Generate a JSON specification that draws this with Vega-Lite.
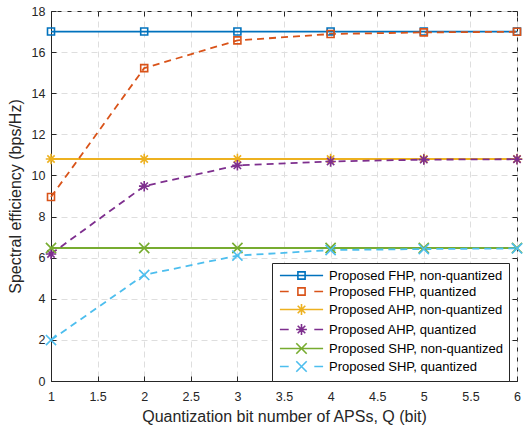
{
  "$schema": "https://vega.github.io/schema/vega-lite/v6.json",
  "width": 466,
  "height": 370,
  "autosize": {"type": "none"},
  "padding": {"left": 51, "top": 11, "right": 6, "bottom": 45},
  "background": "white",
  "config": {
    "font": "Liberation Sans",
    "view": {"stroke": "#262626", "strokeWidth": 1},
    "axis": {
      "domainColor": "#262626",
      "tickColor": "#262626",
      "labelColor": "#262626",
      "titleColor": "#262626",
      "labelFont": "Liberation Sans",
      "titleFont": "Liberation Sans",
      "labelFontSize": 12.5,
      "titleFontSize": 16,
      "titleFontWeight": "normal",
      "tickSize": -5,
      "gridColor": "#dedede",
      "gridDash": [6, 4],
      "gridWidth": 1
    }
  },
  "data": {
    "values": [
      {"series": "Proposed FHP, non-quantized", "kind": "non", "Q": 1, "se": 17.0},
      {"series": "Proposed FHP, non-quantized", "kind": "non", "Q": 2, "se": 17.0},
      {"series": "Proposed FHP, non-quantized", "kind": "non", "Q": 3, "se": 17.0},
      {"series": "Proposed FHP, non-quantized", "kind": "non", "Q": 4, "se": 17.0},
      {"series": "Proposed FHP, non-quantized", "kind": "non", "Q": 5, "se": 17.0},
      {"series": "Proposed FHP, non-quantized", "kind": "non", "Q": 6, "se": 17.0},
      {"series": "Proposed FHP, quantized", "kind": "quant", "Q": 1, "se": 8.95},
      {"series": "Proposed FHP, quantized", "kind": "quant", "Q": 2, "se": 15.22},
      {"series": "Proposed FHP, quantized", "kind": "quant", "Q": 3, "se": 16.57},
      {"series": "Proposed FHP, quantized", "kind": "quant", "Q": 4, "se": 16.88},
      {"series": "Proposed FHP, quantized", "kind": "quant", "Q": 5, "se": 16.96},
      {"series": "Proposed FHP, quantized", "kind": "quant", "Q": 6, "se": 16.99},
      {"series": "Proposed AHP, non-quantized", "kind": "non", "Q": 1, "se": 10.8},
      {"series": "Proposed AHP, non-quantized", "kind": "non", "Q": 2, "se": 10.8},
      {"series": "Proposed AHP, non-quantized", "kind": "non", "Q": 3, "se": 10.8},
      {"series": "Proposed AHP, non-quantized", "kind": "non", "Q": 4, "se": 10.8},
      {"series": "Proposed AHP, non-quantized", "kind": "non", "Q": 5, "se": 10.8},
      {"series": "Proposed AHP, non-quantized", "kind": "non", "Q": 6, "se": 10.8},
      {"series": "Proposed AHP, quantized", "kind": "quant", "Q": 1, "se": 6.18},
      {"series": "Proposed AHP, quantized", "kind": "quant", "Q": 2, "se": 9.48},
      {"series": "Proposed AHP, quantized", "kind": "quant", "Q": 3, "se": 10.49},
      {"series": "Proposed AHP, quantized", "kind": "quant", "Q": 4, "se": 10.68},
      {"series": "Proposed AHP, quantized", "kind": "quant", "Q": 5, "se": 10.77},
      {"series": "Proposed AHP, quantized", "kind": "quant", "Q": 6, "se": 10.79},
      {"series": "Proposed SHP, non-quantized", "kind": "non", "Q": 1, "se": 6.47},
      {"series": "Proposed SHP, non-quantized", "kind": "non", "Q": 2, "se": 6.47},
      {"series": "Proposed SHP, non-quantized", "kind": "non", "Q": 3, "se": 6.47},
      {"series": "Proposed SHP, non-quantized", "kind": "non", "Q": 4, "se": 6.47},
      {"series": "Proposed SHP, non-quantized", "kind": "non", "Q": 5, "se": 6.47},
      {"series": "Proposed SHP, non-quantized", "kind": "non", "Q": 6, "se": 6.47},
      {"series": "Proposed SHP, quantized", "kind": "quant", "Q": 1, "se": 1.99},
      {"series": "Proposed SHP, quantized", "kind": "quant", "Q": 2, "se": 5.16},
      {"series": "Proposed SHP, quantized", "kind": "quant", "Q": 3, "se": 6.1},
      {"series": "Proposed SHP, quantized", "kind": "quant", "Q": 4, "se": 6.37},
      {"series": "Proposed SHP, quantized", "kind": "quant", "Q": 5, "se": 6.42},
      {"series": "Proposed SHP, quantized", "kind": "quant", "Q": 6, "se": 6.45}
    ]
  },
  "layer": [
    {
      "transform": [{"filter": "datum.kind === 'non'"}],
      "mark": {"type": "line", "strokeWidth": 1.8, "clip": false},
      "encoding": {
        "x": {
          "field": "Q", "type": "quantitative",
          "scale": {"domain": [1, 6], "nice": false, "zero": false},
          "axis": {"orient": "bottom", "values": [1, 1.5, 2, 2.5, 3, 3.5, 4, 4.5, 5, 5.5, 6], "format": "~g", "labelPadding": 14, "title": "Quantization bit number of APSs, Q (bit)", "titlePadding": 6, "grid": true, "labelFlush": false}
        },
        "y": {
          "field": "se", "type": "quantitative",
          "scale": {"domain": [0, 18], "nice": false},
          "axis": {"orient": "left", "values": [0, 2, 4, 6, 8, 10, 12, 14, 16, 18], "labelPadding": 11, "title": "Spectral efficiency (bps/Hz)", "titlePadding": 8, "grid": true}
        },
        "color": {
          "field": "series", "type": "nominal",
          "scale": {
            "domain": ["Proposed FHP, non-quantized", "Proposed FHP, quantized", "Proposed AHP, non-quantized", "Proposed AHP, quantized", "Proposed SHP, non-quantized", "Proposed SHP, quantized"],
            "range": ["#0072BD", "#D95319", "#EDB120", "#7E2F8E", "#77AC30", "#4DBEEE"]
          },
          "legend": {
            "title": null,
            "orient": "none",
            "legendX": 221,
            "legendY": 252,
            "direction": "vertical",
            "strokeColor": "#262626",
            "fillColor": "white",
            "padding": 6,
            "cornerRadius": 0,
            "labelFont": "Liberation Sans",
            "labelFontSize": 13,
            "labelColor": "#000000",
            "labelLimit": 400,
            "symbolType": "M-5.4,0L5.4,0",
            "symbolSize": 64,
            "symbolOffset": 17,
            "labelOffset": 21,
            "rowPadding": 1,
            "symbolStrokeWidth": 1.6,
            "encode": {
              "symbols": {
                "update": {
                  "shape": {"signal": "datum.value === 'Proposed FHP, non-quantized' ? 'M-5.4,0L5.4,0M-0.9,-0.9L0.9,-0.9L0.9,0.9L-0.9,0.9Z' : datum.value === 'Proposed FHP, quantized' ? 'M-5.4,0L-3.2,0M3.2,0L5.4,0M-0.9,-0.9L0.9,-0.9L0.9,0.9L-0.9,0.9Z' : datum.value === 'Proposed AHP, non-quantized' ? 'M-5.4,0L5.4,0M0,-1.35L0,1.35M-0.95,-0.95L0.95,0.95M-0.95,0.95L0.95,-0.95' : datum.value === 'Proposed AHP, quantized' ? 'M-5.4,0L-3.2,0M3.2,0L5.4,0M-1.35,0L1.35,0M0,-1.35L0,1.35M-0.95,-0.95L0.95,0.95M-0.95,0.95L0.95,-0.95' : datum.value === 'Proposed SHP, non-quantized' ? 'M-5.4,0L5.4,0M-1.3,-1.3L1.3,1.3M-1.3,1.3L1.3,-1.3' : 'M-5.4,0L-3.2,0M3.2,0L5.4,0M-1.3,-1.3L1.3,1.3M-1.3,1.3L1.3,-1.3'"},
                  "fill": {"value": "transparent"},
                  "strokeWidth": {"value": 1.6},
                  "size": {"value": 64},
                  "opacity": {"value": 1}
                }
              }
            }
          }
        }
      }
    },
    {
      "transform": [{"filter": "datum.kind === 'quant'"}],
      "mark": {"type": "line", "strokeWidth": 1.8, "strokeDash": [7, 5], "clip": false},
      "encoding": {
        "x": {"field": "Q", "type": "quantitative", "axis": null},
        "y": {"field": "se", "type": "quantitative", "axis": null},
        "color": {"field": "series", "type": "nominal", "legend": null}
      }
    },
    {
      "transform": [{"filter": "indexof(datum.series, 'FHP') >= 0"}],
      "mark": {"type": "point", "filled": false, "strokeWidth": 1.6, "opacity": 1, "size": 49, "shape": "M-1,-1L1,-1L1,1L-1,1Z", "clip": false},
      "encoding": {
        "x": {"field": "Q", "type": "quantitative", "axis": null},
        "y": {"field": "se", "type": "quantitative", "axis": null},
        "color": {"field": "series", "type": "nominal", "legend": null}
      }
    },
    {
      "transform": [{"filter": "indexof(datum.series, 'AHP') >= 0"}],
      "mark": {"type": "point", "filled": false, "strokeWidth": 1.6, "opacity": 1, "size": 49, "shape": "M-1.5,0L1.5,0M0,-1.5L0,1.5M-1.05,-1.05L1.05,1.05M-1.05,1.05L1.05,-1.05", "clip": false},
      "encoding": {
        "x": {"field": "Q", "type": "quantitative", "axis": null},
        "y": {"field": "se", "type": "quantitative", "axis": null},
        "color": {"field": "series", "type": "nominal", "legend": null}
      }
    },
    {
      "transform": [{"filter": "indexof(datum.series, 'SHP') >= 0"}],
      "mark": {"type": "point", "filled": false, "strokeWidth": 1.6, "opacity": 1, "size": 49, "shape": "M-1.45,-1.45L1.45,1.45M-1.45,1.45L1.45,-1.45", "clip": false},
      "encoding": {
        "x": {
          "field": "Q", "type": "quantitative",
          "axis": {"orient": "top", "values": [1, 1.5, 2, 2.5, 3, 3.5, 4, 4.5, 5, 5.5, 6], "labels": false, "title": null, "grid": false, "domain": false}
        },
        "y": {
          "field": "se", "type": "quantitative",
          "axis": {"orient": "right", "values": [0, 2, 4, 6, 8, 10, 12, 14, 16, 18], "labels": false, "title": null, "grid": false, "domain": false}
        },
        "color": {"field": "series", "type": "nominal", "legend": null}
      }
    }
  ]
}
